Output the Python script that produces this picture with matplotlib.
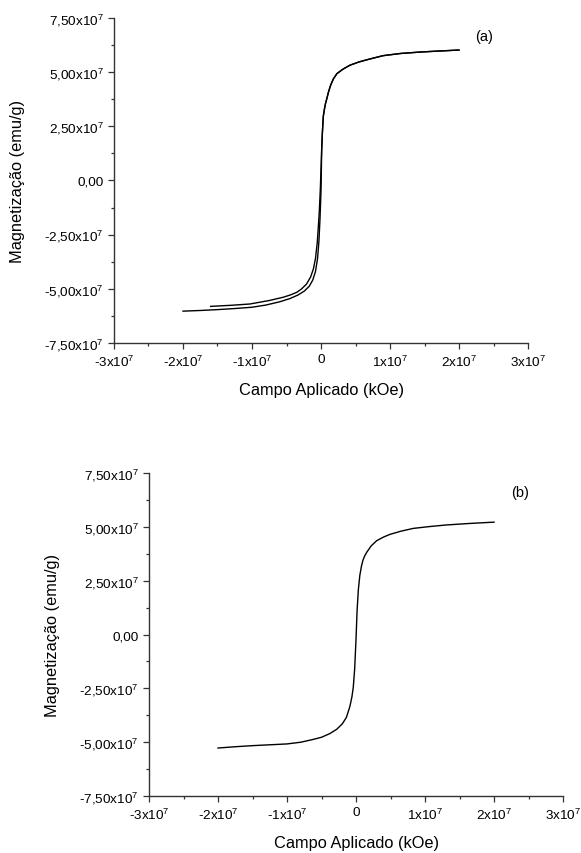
import numpy as np
import matplotlib
matplotlib.use("Agg")
import matplotlib.pyplot as plt
from matplotlib.ticker import FixedLocator, FixedFormatter, MultipleLocator

plt.rcParams['font.family'] = ['Liberation Sans', 'DejaVu Sans']
plt.rcParams['mathtext.fontset'] = 'custom'
plt.rcParams['mathtext.rm'] = 'Liberation Sans'
plt.rcParams['mathtext.default'] = 'regular'

# campo aplicado em unidades de 1e7, magnetizacao em unidades de 1e7
# (a) ramo ascendente: de -2e7 ate 2e7
a_up_h = [-2.0, -1.75, -1.5, -1.25, -1.0, -0.8, -0.6, -0.45, -0.33, -0.24, -0.17,
          -0.12, -0.08, -0.05, -0.03, -0.015, 0.0, 0.01, 0.02, 0.033, 0.05, 0.065,
          0.083, 0.11, 0.14, 0.178, 0.23, 0.32, 0.42, 0.55, 0.7, 0.9, 1.15, 1.45,
          1.75, 2.0]
a_up_m = [-6.03, -6.0, -5.96, -5.91, -5.85, -5.75, -5.6, -5.45, -5.28, -5.1, -4.88,
          -4.6, -4.2, -3.6, -2.8, -1.8, -0.5, 1.45, 2.2, 2.95, 3.3, 3.55,
          3.76, 4.1, 4.4, 4.68, 4.93, 5.14, 5.32, 5.47, 5.6, 5.76, 5.86, 5.93,
          5.98, 6.02]
# (a) ramo descendente: de 2e7 ate -1.6e7
a_dn_h = [2.0, 1.75, 1.45, 1.15, 0.9, 0.7, 0.55, 0.42, 0.32, 0.23, 0.178, 0.14,
          0.11, 0.083, 0.065, 0.05, 0.033, 0.02, 0.01, 0.0, -0.01, -0.024, -0.04,
          -0.054, -0.08, -0.11, -0.15, -0.21, -0.28, -0.35, -0.45, -0.55, -0.75,
          -1.03, -1.3, -1.6]
a_dn_m = [6.02, 5.98, 5.93, 5.86, 5.76, 5.6, 5.47, 5.32, 5.14, 4.93, 4.68, 4.4,
          4.1, 3.76, 3.55, 3.3, 2.95, 2.2, 1.45, 0.5, -0.4, -1.4, -2.2,
          -2.85, -3.6, -4.08, -4.45, -4.78, -5.0, -5.16, -5.29, -5.39, -5.54,
          -5.7, -5.76, -5.81]

# (b)
b_h = [-2.0, -1.75, -1.5, -1.25, -1.0, -0.8, -0.62, -0.5, -0.38, -0.28, -0.2,
       -0.14, -0.09, -0.06, -0.04, -0.02, 0.0, 0.015, 0.034, 0.055, 0.08, 0.1,
       0.125, 0.155, 0.22, 0.30, 0.40, 0.49, 0.65, 0.83, 1.05, 1.31, 1.65, 2.0]
b_m = [-5.27, -5.21, -5.16, -5.12, -5.08, -5.0, -4.87, -4.77, -4.6, -4.4, -4.15,
       -3.85, -3.35, -2.9, -2.45, -1.6, -0.2, 1.1, 2.1, 2.75, 3.2, 3.45,
       3.65, 3.82, 4.12, 4.36, 4.53, 4.65, 4.8, 4.93, 5.01, 5.09, 5.16, 5.22]

x_ticks = [-3, -2, -1, 0, 1, 2, 3]
x_labels = [r'-3x10$^{7}$', r'-2x10$^{7}$', r'-1x10$^{7}$', '0',
            r'1x10$^{7}$', r'2x10$^{7}$', r'3x10$^{7}$']
y_ticks = [-7.5, -5.0, -2.5, 0.0, 2.5, 5.0, 7.5]
y_labels = [r'-7,50x10$^{7}$', r'-5,00x10$^{7}$', r'-2,50x10$^{7}$', '0,00',
            r'2,50x10$^{7}$', r'5,00x10$^{7}$', r'7,50x10$^{7}$']

SC = 1e7


def style_axes(ax, tag, tag_x, tag_y):
    ax.set_xlim(-3 * SC, 3 * SC)
    ax.set_ylim(-7.5 * SC, 7.5 * SC)
    ax.spines['top'].set_visible(False)
    ax.spines['right'].set_visible(False)
    for s in ('left', 'bottom'):
        ax.spines[s].set_linewidth(1.0)
        ax.spines[s].set_color('#333333')
    ax.xaxis.set_major_locator(FixedLocator([v * SC for v in x_ticks]))
    ax.xaxis.set_major_formatter(FixedFormatter(x_labels))
    ax.xaxis.set_minor_locator(MultipleLocator(0.5 * SC))
    ax.yaxis.set_major_locator(FixedLocator([v * SC for v in y_ticks]))
    ax.yaxis.set_major_formatter(FixedFormatter(y_labels))
    ax.yaxis.set_minor_locator(MultipleLocator(1.25 * SC))
    ax.tick_params(which='major', length=4.5, width=0.9, color='#333333',
                   labelsize=9.7, pad=3)
    ax.tick_params(which='minor', length=2.5, width=0.9, color='#333333')
    ax.set_xlabel('Campo Aplicado (kOe)', fontsize=11.8)
    ax.xaxis.set_label_coords(0.5, -0.12)
    ax.set_ylabel('Magnetização (emu/g)', fontsize=11.8, va='center')
    ax.yaxis.set_label_coords(-0.234, 0.5)
    ax.text(tag_x * SC, tag_y * SC, tag, fontsize=10.5, ha='center', va='center')


fig = plt.figure(figsize=(5.81, 8.54), dpi=100)
ax1 = fig.add_axes([0.1962, 0.5972, 0.7126, 0.3806])
ax2 = fig.add_axes([0.2565, 0.0667, 0.7126, 0.3782])

ax1.plot(np.array(a_up_h) * SC, np.array(a_up_m) * SC, color='k', lw=1.0)
ax1.plot(np.array(a_dn_h) * SC, np.array(a_dn_m) * SC, color='k', lw=1.0)
style_axes(ax1, '(a)', 2.36, 6.67)

ax2.plot(np.array(b_h) * SC, np.array(b_m) * SC, color='k', lw=1.0)
style_axes(ax2, '(b)', 2.38, 6.62)

fig.savefig('out.png', dpi=100)
